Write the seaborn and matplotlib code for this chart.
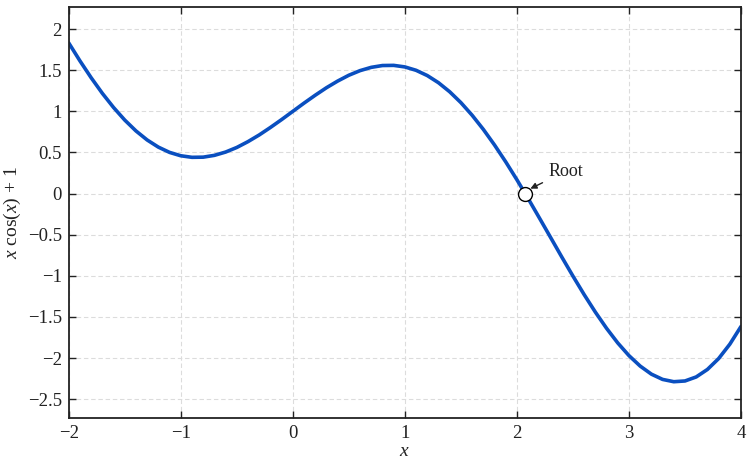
import numpy as np
import matplotlib
matplotlib.use("Agg")
import matplotlib.pyplot as plt
import seaborn as sns

# values, x from -2 to 4 in steps of 0.1
x_vals = [-2.0, -1.9, -1.8, -1.7, -1.6, -1.5, -1.4, -1.3, -1.2, -1.1,
          -1.0, -0.9, -0.8, -0.7, -0.6, -0.5, -0.4, -0.3, -0.2, -0.1,
          0.0, 0.1, 0.2, 0.3, 0.4, 0.5, 0.6, 0.7, 0.8, 0.9,
          1.0, 1.1, 1.2, 1.3, 1.4, 1.5, 1.6, 1.7, 1.8, 1.9,
          2.0, 2.1, 2.2, 2.3, 2.4, 2.5, 2.6, 2.7, 2.8, 2.9,
          3.0, 3.1, 3.2, 3.3, 3.4, 3.5, 3.6, 3.7, 3.8, 3.9, 4.0]
y_vals = [1.832, 1.614, 1.409, 1.219, 1.047, 0.894, 0.762, 0.652, 0.565, 0.501,
          0.460, 0.441, 0.443, 0.465, 0.505, 0.561, 0.632, 0.713, 0.804, 0.900,
          1.000, 1.100, 1.196, 1.287, 1.368, 1.439, 1.495, 1.535, 1.557, 1.559,
          1.540, 1.499, 1.435, 1.348, 1.238, 1.106, 0.953, 0.781, 0.591, 0.386,
          0.168, -0.060, -0.295, -0.532, -0.770, -1.003, -1.228, -1.441, -1.638, -1.816,
          -1.970, -2.097, -2.195, -2.259, -2.287, -2.278, -2.229, -2.138, -2.006, -1.831, -1.615]
root_x = [2.074]
root_y = [0.0]
x_ticks = [-2, -1, 0, 1, 2, 3, 4]
y_ticks = [-2.5, -2, -1.5, -1, -0.5, 0, 0.5, 1, 1.5, 2]

sns.set_theme(style="white")
plt.rcParams["font.family"] = ["Liberation Serif", "DejaVu Serif"]
plt.rcParams["mathtext.fontset"] = "custom"
plt.rcParams["mathtext.rm"] = "Liberation Serif"
plt.rcParams["mathtext.it"] = "Liberation Serif:italic"

fig = plt.figure(figsize=(7.47, 4.59), dpi=100)
ax = fig.add_axes([0.092, 0.089, 0.9, 0.896])

sns.lineplot(x=x_vals, y=y_vals, ax=ax, color="#0a4fc0", linewidth=2.6, sort=False)
ax.plot(root_x, root_y, "o", markersize=10, markerfacecolor="white",
        markeredgecolor="black", markeredgewidth=1.0, zorder=5)
ax.annotate("Root", xy=(2.12, 0.06), xytext=(2.28, 0.27),
            fontsize=13, color="#222222", va="center", ha="left",
            arrowprops=dict(arrowstyle="-|>", color="#222222", lw=1.0,
                            mutation_scale=9, shrinkA=2, shrinkB=0))

ax.set_xlim(-2, 4)
ax.set_ylim(-2.73, 2.27)
ax.set_xticks(x_ticks)
ax.set_yticks(y_ticks)
ax.set_xticklabels([f"{t:g}".replace("-", "\u2212") for t in x_ticks])
ax.set_yticklabels([f"{t:g}".replace("-", "\u2212") for t in y_ticks])
ax.tick_params(direction="in", length=5, width=1, colors="#222222",
               labelsize=13.5, top=True, right=True, bottom=True, left=True,
               labelcolor="#222222", pad=5)
ax.grid(True, linestyle=(0, (4, 2.5)), color="#dcdcdc", linewidth=0.8)
for s in ax.spines.values():
    s.set_color("#222222")
    s.set_linewidth(1.3)
ax.set_xlabel("$x$", fontsize=14, labelpad=1, color="#222222")
ax.set_ylabel("$x$ cos($x$) + 1", fontsize=14, labelpad=3, color="#222222")

fig.savefig("out.png", dpi=100)
